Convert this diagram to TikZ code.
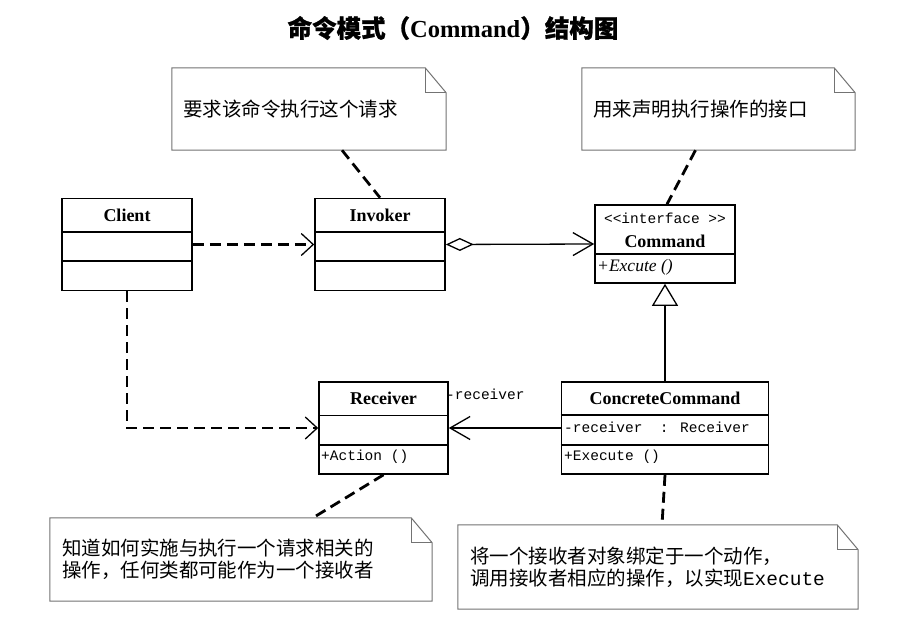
\documentclass[tikz,border=0pt]{standalone}
\usepackage{fontspec}
\setmainfont{Liberation Serif}
\newfontfamily\cjk{Noto Sans CJK SC}
\newfontfamily\cjkbf[FakeBold=1]{Noto Sans CJK SC}
\newfontfamily\halfmono{Liberation Mono}
\usetikzlibrary{arrows.meta}

\tikzset{
  klass/.style={draw, line width=1.6pt, inner sep=0pt},
  compart/.style={line width=1.6pt},
  kname/.style={font=\fontsize{18}{21}\selectfont\bfseries, inner sep=0pt},
  kmember/.style={font=\halfmono\fontsize{14.5}{17}\selectfont, inner sep=0pt},
  notebox/.style={inner sep=0pt, align=left, font=\cjk\fontsize{19.5}{22}\selectfont},
  noteline/.style={draw=black!55, line width=1pt},
  dep/.style={line width=2.8pt, dash pattern=on 11pt off 6pt,
    -{Straight Barb[length=12pt,width=22pt,line width=1.3pt]}},
  notelink/.style={line width=2.8pt, dash pattern=on 11pt off 6pt},
  assoc/.style={line width=1.3pt, -{Straight Barb[length=20pt,width=23pt,line width=1.3pt]}},
  extends/.style={line width=1.3pt, -{Triangle[open,length=22pt,width=26pt,line width=1.3pt]}}
}

% dog-eared outline round a note node
\newcommand{\notefold}[1]{%
  \draw[noteline] (#1.north west) -- ([xshift=-21pt]#1.north east)
    -- ([yshift=-25pt]#1.north east) -- (#1.south east) -- (#1.south west) -- cycle;
  \draw[noteline] ([xshift=-21pt]#1.north east) -- ([xshift=-21pt,yshift=-25pt]#1.north east)
    -- ([yshift=-25pt]#1.north east);
}

\begin{document}
\begin{tikzpicture}[x=1pt,y=-1pt]
\fill[white] (0,0) rectangle (897,623);
\useasboundingbox (0,0) rectangle (897,623);

\node[font=\fontsize{24.5}{28}\selectfont\bfseries] (title) at (453,28)
  {{\cjkbf 命令模式（}Command{\cjkbf ）结构图}};

% classes
\node[klass, minimum width=130pt, minimum height=92pt] (client) at (127,244.5) {};
\node[klass, minimum width=130pt, minimum height=92pt] (invoker) at (380,244.5) {};
\node[klass, minimum width=140pt, minimum height=78pt] (command) at (665,244) {};
\node[klass, minimum width=207pt, minimum height=92pt] (concrete) at (665,428) {};
\node[klass, minimum width=129pt, minimum height=92pt] (receiver) at (383.5,428) {};

\draw[compart] (client.west |- 0,232) -- (client.east |- 0,232);
\draw[compart] (client.west |- 0,261) -- (client.east |- 0,261);
\draw[compart] (invoker.west |- 0,232) -- (invoker.east |- 0,232);
\draw[compart] (invoker.west |- 0,261) -- (invoker.east |- 0,261);
\draw[compart] (command.west |- 0,254) -- (command.east |- 0,254);
\draw[compart] (concrete.west |- 0,415) -- (concrete.east |- 0,415);
\draw[compart] (concrete.west |- 0,445) -- (concrete.east |- 0,445);
\draw[compart] (receiver.west |- 0,415.5) -- (receiver.east |- 0,415.5);
\draw[compart] (receiver.west |- 0,445) -- (receiver.east |- 0,445);

\node[kname] (clientname) at (127,215) {Client};
\node[kname] (invokername) at (380,215) {Invoker};
\node[kmember] (stereo) at (665,218) {<<interface >>};
\node[kname] (commandname) at (665,241) {Command};
\node[anchor=west, inner sep=0pt, font=\fontsize{17.5}{20}\selectfont\itshape] (excute) at (597,267) {+Excute ()};
\node[kname] (concretename) at (665,398) {ConcreteCommand};
\node[kmember, anchor=west] (recvfield) at (564,427) {-receiver\ \ : Receiver};
\node[kmember, anchor=west] (execute) at (564,457) {+Execute ()};
\node[kname] (receivername) at (383.5,398) {Receiver};
\node[kmember, anchor=west] (action) at (321,457) {+Action ()};

% notes
\node[notebox, text width=252pt, inner xsep=11pt, minimum height=82pt] (reqnote) at (309,109)
  {要求该命令执行这个请求};
\node[notebox, text width=251pt, inner xsep=11pt, minimum height=82pt] (ifnote) at (718.5,109)
  {用来声明执行操作的接口};
\node[notebox, text width=358pt, inner xsep=12pt, minimum height=83pt] (rcvnote) at (241,559.5)
  {知道如何实施与执行一个请求相关的\\操作，任何类都可能作为一个接收者};
\node[notebox, text width=376pt, inner xsep=12pt, minimum height=84pt] (bindnote) at (658,567)
  {将一个接收者对象绑定于一个动作，\\调用接收者相应的操作，以实现{\halfmono Execute}};
\notefold{reqnote}
\notefold{ifnote}
\notefold{rcvnote}
\notefold{bindnote}

% connectors
\draw[dep] (client) -- (invoker);
\draw[dep] (client.south) |- (receiver.west);
\draw[line width=1.3pt, {Diamond[open,length=28pt,width=13pt,line width=1.3pt]}-{Straight Barb[length=20pt,width=23pt,line width=1.3pt]}]
  (invoker.east) -- (command.west);
\draw[extends] (concrete) -- (command);
\draw[assoc] (concrete) -- (receiver);
\node[kmember, anchor=west] (rolename) at (446,394) {-receiver};

\draw[notelink] ([xshift=33pt]reqnote.south) -- (invoker.north);
\draw[notelink] ([xshift=-23pt]ifnote.south) -- ([xshift=2pt]command.north);
\draw[notelink] (receiver.south) -- ([xshift=72pt]rcvnote.north);
\draw[notelink] (concrete.south) -- ([xshift=4pt]bindnote.north);
\end{tikzpicture}
\end{document}
